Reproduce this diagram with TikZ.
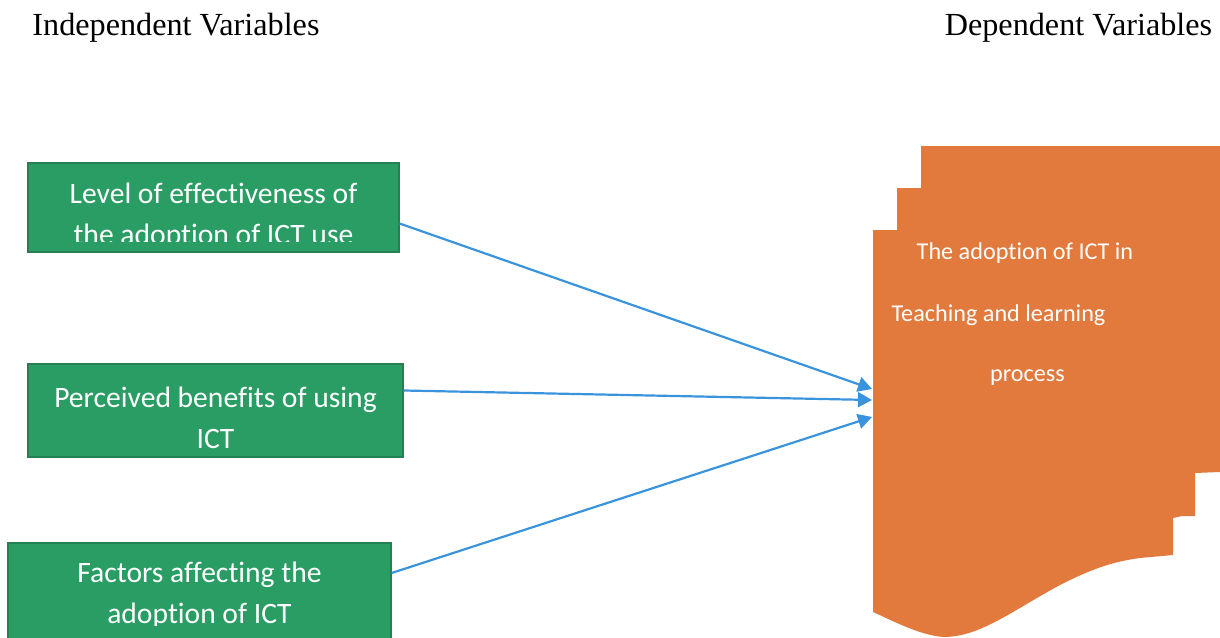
\documentclass[tikz,border=0pt]{standalone}
\usepackage{fontspec}
\setmainfont{Liberation Serif}
\newfontfamily\calibri[Ligatures={NoCommon}]{Carlito}
\usetikzlibrary{arrows.meta}

\definecolor{ivgreen}{RGB}{41,157,99}
\definecolor{ivedge}{RGB}{36,128,82}
\definecolor{dvorange}{RGB}{225,122,60}
\definecolor{linkblue}{RGB}{58,147,221}

\tikzset{
  header/.style={anchor=base, font=\fontsize{16.1}{19}\selectfont},
  ivbox/.style={draw=ivedge, line width=0.6pt, fill=ivgreen, inner sep=0pt},
  ivtext/.style={text=white, align=center, inner sep=0pt, font=\calibri\fontsize{14.8}{20.5}\selectfont},
  dvtext/.style={text=white, anchor=base, inner sep=0pt, font=\calibri\fontsize{12.1}{14}\selectfont},
  link/.style={draw=linkblue, line width=1.1pt, -{Triangle[length=7pt,width=7.5pt]}}
}

\begin{document}
\begin{tikzpicture}[x=0.5pt,y=-0.5pt]
\useasboundingbox (0,0) rectangle (1220,637);
\node[header] (ivhead) at (176,35) {Independent Variables};
\node[header] (dvhead) at (1078.5,35) {Dependent Variables};

\node[ivbox, minimum width=185.5pt, minimum height=44.5pt] (eff) at (213.5,207.5) {};
\node[ivbox, minimum width=187.5pt, minimum height=46.5pt] (ben) at (215.5,410.5) {};
\node[ivbox, minimum width=191.5pt, minimum height=48pt] (fac) at (199.5,591) {};
\begin{scope}
  \clip (eff.north west) rectangle ([yshift=5.5pt]eff.south east);
  \node[ivtext] (efftext) at (213.5,216) {Level of effectiveness of\\the adoption of ICT use};
\end{scope}
\node[ivtext] (bentext) at (215.5,418) {Perceived benefits of using\\ICT};
\begin{scope}
  \clip (fac.north west) rectangle (391,625);
  \node[ivtext] (factext) at (199.5,595) {Factors affecting the\\adoption of ICT};
\end{scope}

\fill[dvorange] (921,146) -- (1220,146) -- (1220,472) -- (1195,473) -- (1195,516)
  -- (1182,516) -- (1173,518) -- (1173,555) -- (1140,558)
  .. controls (1110,562) and (1090,570) .. (1060,585)
  .. controls (1010,612) and (980,637) .. (943,637)
  .. controls (920,635) and (895,622) .. (873,612)
  -- (873,230) -- (897,230) -- (897,188) -- (921,188) -- cycle;
\node[dvtext] (dv1) at (1025,259) {The adoption of ICT in};
\node[dvtext] (dv2) at (998.5,321) {Teaching and learning};
\node[dvtext] (dv3) at (1027.5,381) {process};

\coordinate (dvin1) at (872,389);
\coordinate (dvin2) at (872,400);
\coordinate (dvin3) at (872,417);
\draw[link] ([yshift=-8pt]eff.east) -- (dvin1);
\draw[link] ([yshift=10pt]ben.east) -- (dvin2);
\draw[link] ([yshift=9pt]fac.east) -- (dvin3);
\end{tikzpicture}
\end{document}
